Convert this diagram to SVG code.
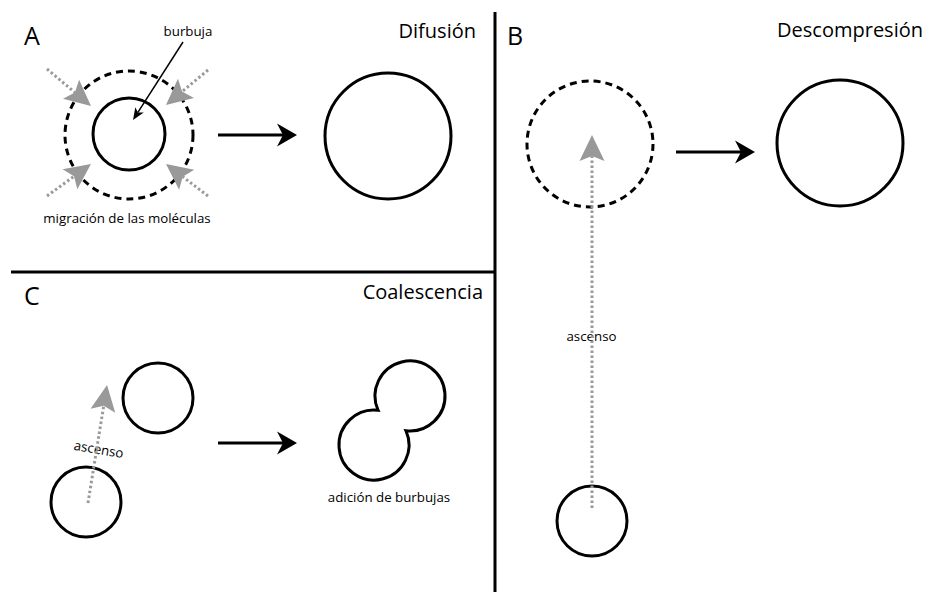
<svg xmlns="http://www.w3.org/2000/svg" width="927" height="592" viewBox="0 0 927 592">
<style>
.bg{fill:#fff}
.sep{stroke:#000;stroke-width:3;fill:none}
.c{fill:none;stroke:#000;stroke-width:3}
.cd{fill:none;stroke:#000;stroke-width:3;stroke-dasharray:7 5}
.dot{fill:none;stroke:#999;stroke-width:3;stroke-dasharray:2.5 2.5}
.blk{fill:none;stroke:#000;stroke-width:3}
.thin{fill:none;stroke:#000;stroke-width:1.5}
text{font-family:"Open Sans","Liberation Sans",sans-serif;fill:#000}
.big{font-size:25px}
.ttl{font-size:20px}
.lbl{font-size:13.3px}
</style>
<defs>
<marker id="gh" markerUnits="userSpaceOnUse" markerWidth="30" markerHeight="30" viewBox="-28 -15 30 30" refX="-21" refY="0" orient="auto">
<path d="M0,0 L-26,-12.5 L-21,0 L-26,12.5 Z" fill="#999"/>
</marker>
<marker id="bh" markerUnits="userSpaceOnUse" markerWidth="30" markerHeight="30" viewBox="-25 -15 30 30" refX="-14" refY="0" orient="auto">
<path d="M0,0 L-20,-11.5 L-14,0 L-20,11.5 Z" fill="#000"/>
</marker>
<marker id="th" markerUnits="userSpaceOnUse" markerWidth="16" markerHeight="16" viewBox="-14 -8 16 16" refX="-9" refY="0" orient="auto">
<path d="M0,0 L-12,-5 L-9,0 L-12,5 Z" fill="#000"/>
</marker>
</defs>
<rect class="bg" x="0" y="0" width="927" height="592"/>

<g id="dividers">
<line class="sep" x1="495" y1="12" x2="495" y2="592"/>
<line class="sep" x1="11" y1="272" x2="495" y2="272"/>
</g>

<g id="panelA">
<text class="big" x="24" y="45">A</text>
<text class="ttl" x="476" y="38" text-anchor="end">Difusión</text>
<g id="a-bubble">
<circle class="cd" cx="129" cy="135" r="64"/>
<circle class="c" cx="129" cy="134" r="36"/>
</g>
<g id="a-result"><circle class="c" cx="388" cy="136" r="63"/></g>
<g id="a-labels">
<text class="lbl" x="188" y="35.5" text-anchor="middle">burbuja</text>
<text class="lbl" x="127" y="223" text-anchor="middle">migración de las moléculas</text>
</g>
</g>

<g id="panelB">
<text class="big" x="507" y="45">B</text>
<text class="ttl" x="923" y="37" text-anchor="end">Descompresión</text>
<g id="b-start"><circle class="c" cx="592" cy="521" r="35"/></g>
<g id="b-dashed"><circle class="cd" cx="590" cy="144" r="63"/></g>
<g id="b-result"><circle class="c" cx="840" cy="143" r="63"/></g>
<text class="lbl" x="591.5" y="341" text-anchor="middle">ascenso</text>
</g>

<g id="panelC">
<text class="big" x="24" y="305">C</text>
<text class="ttl" x="483" y="299" text-anchor="end">Coalescencia</text>
<g id="c-upper"><circle class="c" cx="158" cy="398" r="35"/></g>
<g id="c-lower"><circle class="c" cx="86" cy="502" r="35"/></g>
<g id="c-merged"><path class="c" d="M378.1,410.3 A35,35 0 1 1 405.9,430.7 A35,35 0 1 1 378.1,410.3 Z"/></g>
<text class="lbl" transform="translate(98,454) rotate(9.6)" text-anchor="middle">ascenso</text>
<text class="lbl" x="389" y="502" text-anchor="middle">adición de burbujas</text>
</g>

<g id="connectors">
<line class="dot" x1="47" y1="69" x2="74.9" y2="92.5" marker-end="url(#gh)"/>
<line class="dot" x1="208" y1="70" x2="182.1" y2="91.6" marker-end="url(#gh)"/>
<line class="dot" x1="47" y1="196" x2="74" y2="176.3" marker-end="url(#gh)"/>
<line class="dot" x1="208" y1="196" x2="182.7" y2="176.7" marker-end="url(#gh)"/>
<line class="thin" x1="183" y1="42" x2="137.9" y2="112.4" marker-end="url(#th)"/>
<line class="blk" x1="218" y1="135" x2="283" y2="135" marker-end="url(#bh)"/>
<line class="dot" x1="592" y1="508" x2="592" y2="156" marker-end="url(#gh)"/>
<line class="blk" x1="676" y1="152" x2="741" y2="152" marker-end="url(#bh)"/>
<line class="dot" x1="88" y1="503" x2="103.7" y2="405.7" marker-end="url(#gh)"/>
<line class="blk" x1="218" y1="443" x2="283" y2="443" marker-end="url(#bh)"/>
</g>
</svg>
